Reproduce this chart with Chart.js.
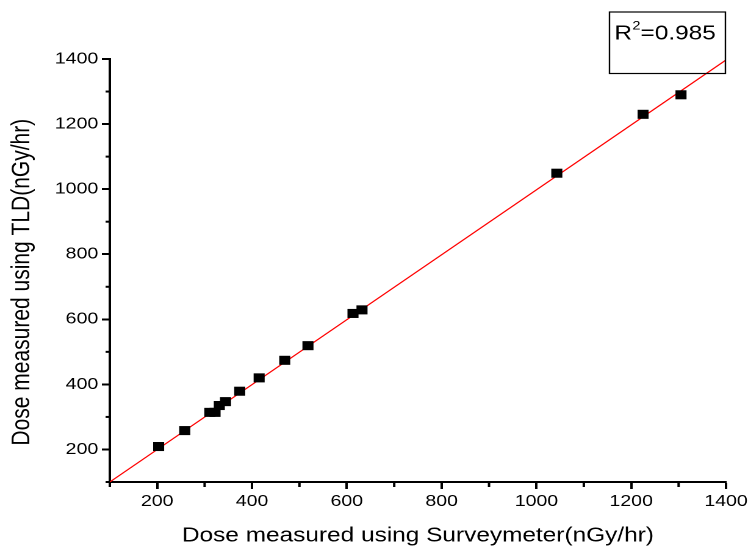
<!DOCTYPE html>
<html lang="en">
<head>
<meta charset="UTF-8">
<title>Dose TLD vs Surveymeter</title>
<script src="https://cdn.jsdelivr.net/npm/chart.js"></script>
<style>
    html, body { margin: 0; padding: 0; background: #fff; overflow: hidden; }
    /* the reference is stretched sideways, so draw narrow and scale it out */
    #wrap { width: 613px; height: 548px; transform: scaleX(1.2202); transform-origin: 0 0; }
</style>
</head>
<body>
<div id="wrap"><canvas id="doseChart" width="613" height="548"></canvas></div>
<script>
    // measured points (nGy/hr)
    const surveyDose = [203, 258, 311, 322, 331, 344, 374, 415, 469, 518, 613, 632, 1043, 1225, 1305];
    const tldDose    = [209, 258, 314, 314, 335, 347, 379, 420, 474, 519, 618, 629, 1049, 1230, 1290];

    // linear fit end points
    const fitX = [100, 1400];
    const fitY = [100, 1397];

    const rSquared = '0.985';
    const xTitle = 'Dose measured using Surveymeter(nGy/hr)';
    // trailing spaces push the rotated title a bit lower, as in the original
    const yTitle = 'Dose measured using TLD(nGy/hr)    ';

    const FONT = "'Liberation Sans', Arial, sans-serif";

    const isMajor = v => v % 200 === 0;

    // short minor ticks + the R² box
    const extras = {
        id: 'extras',
        afterDraw(chart) {
            const ctx = chart.ctx;
            const xs = chart.scales.x, ys = chart.scales.y;
            const area = chart.chartArea;
            ctx.save();
            ctx.strokeStyle = '#000';
            ctx.lineWidth = 2;
            xs.ticks.forEach(t => {
                if (isMajor(t.value)) return;
                const px = xs.getPixelForValue(t.value);
                ctx.beginPath();
                ctx.moveTo(px, area.bottom);
                ctx.lineTo(px, area.bottom + 5);
                ctx.stroke();
            });
            ys.ticks.forEach(t => {
                if (isMajor(t.value)) return;
                const py = ys.getPixelForValue(t.value);
                ctx.beginPath();
                ctx.moveTo(area.left, py);
                ctx.lineTo(area.left - 3.5, py);
                ctx.stroke();
            });

            // R² label box
            ctx.lineWidth = 1.2;
            ctx.strokeRect(499.5, 12, 95, 61.5);
            ctx.fillStyle = '#000';
            ctx.textBaseline = 'alphabetic';
            ctx.textAlign = 'left';
            ctx.font = '20px ' + FONT;
            let x = 503.5;
            ctx.fillText('R', x, 39.5);
            x += ctx.measureText('R').width;
            ctx.font = '12px ' + FONT;
            ctx.fillText('2', x + 0.3, 29.5);
            x += ctx.measureText('2').width + 0.3;
            ctx.font = '20px ' + FONT;
            ctx.fillText('=' + rSquared, x, 39.5);
            ctx.restore();
        }
    };

    function axis(title, titleSize, lineH, tickLen) {
        return {
            type: 'linear',
            min: 100,
            max: 1400,
            ticks: {
                stepSize: 100,
                autoSkip: false,
                maxRotation: 0,
                color: '#000',
                padding: 3,
                font: { family: FONT, size: 16 },
                callback: v => (isMajor(v) ? v : '')
            },
            grid: {
                drawOnChartArea: false,
                drawTicks: true,
                tickLength: tickLen,
                tickWidth: 2,
                tickColor: c => (isMajor(c.tick.value) ? '#000' : 'rgba(0,0,0,0)')
            },
            border: { display: true, color: '#000', width: 2 },
            title: {
                display: true,
                text: title,
                color: '#000',
                padding: 0,
                font: { family: FONT, size: titleSize, lineHeight: lineH }
            }
        };
    }

    const xAxis = axis(xTitle, 20, 1.2, 7);
    xAxis.afterFit = s => { s.height = 66; s.paddingRight = 0; s.paddingLeft = 0; };
    const yAxis = axis(yTitle, 21, 1.75, 6.5);
    yAxis.afterFit = s => { s.width = 90; s.paddingTop = 0; s.paddingBottom = 0; };

    new Chart(document.getElementById('doseChart').getContext('2d'), {
        type: 'scatter',
        data: {
            datasets: [
                {
                    label: 'fit',
                    type: 'line',
                    data: fitX.map((x, i) => ({ x: x, y: fitY[i] })),
                    borderColor: '#ff0000',
                    borderWidth: 1.1,
                    pointRadius: 0,
                    fill: false,
                    order: 2
                },
                {
                    label: 'TLD',
                    data: surveyDose.map((x, i) => ({ x: x, y: tldDose[i] })),
                    pointStyle: 'rect',
                    pointRadius: 6.4,
                    backgroundColor: '#000',
                    borderColor: '#000',
                    borderWidth: 0,
                    order: 1
                }
            ]
        },
        options: {
            responsive: false,
            animation: false,
            devicePixelRatio: 2,
            layout: { padding: { top: 59, right: 18, left: 0, bottom: 0 } },
            plugins: {
                legend: { display: false },
                tooltip: { enabled: false }
            },
            scales: { x: xAxis, y: yAxis }
        },
        plugins: [extras]
    });
</script>
</body>
</html>
